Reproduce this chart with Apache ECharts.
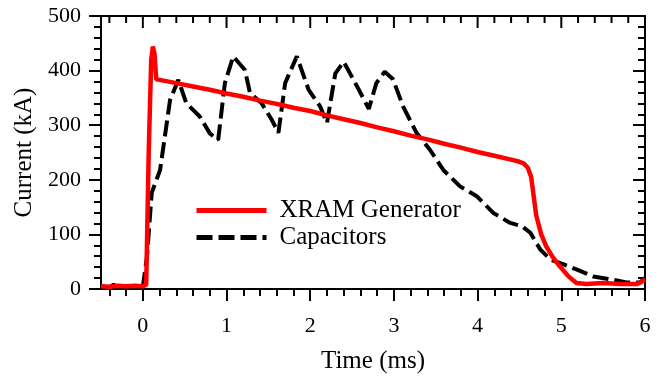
<!DOCTYPE html>
<html>
<head>
<meta charset="utf-8">
<script src="https://cdn.jsdelivr.net/npm/echarts@6/dist/echarts.min.js"></script>
<style>
  html, body { margin: 0; padding: 0; background: #fff; }
  #chart { width: 663px; height: 377px; }
</style>
</head>
<body>
<div id="chart"></div>
<script>
// XRAM generator current trace (ms, kA)
const xramTime = [-0.5, -0.4, -0.3, -0.2, -0.1, 0.0, 0.04, 0.07, 0.1, 0.12, 0.14, 0.16, 0.18, 0.2,
  0.4, 0.6, 0.8, 1.0, 1.2, 1.4, 1.6, 1.8, 2.0, 2.2, 2.4, 2.6, 2.8, 3.0, 3.2, 3.4, 3.6, 3.8, 4.0,
  4.2, 4.4, 4.5, 4.55, 4.6, 4.64, 4.67, 4.7, 4.76, 4.82, 4.9, 4.98, 5.08, 5.18, 5.3, 5.5, 5.7,
  5.9, 5.95, 6.0];
const xramCurrent = [5, 4, 6, 5, 6, 5, 8, 250, 420, 444, 430, 384, 382, 383,
  377, 371, 365, 358, 352, 345, 339, 332, 326, 318, 311, 304, 296, 289, 281, 274, 266, 259, 251,
  244, 237, 233, 230, 222, 205, 170, 135, 100, 78, 58, 42, 24, 11, 9, 11, 9,
  9, 12, 18];

// Capacitor bank current trace (ms, kA)
const capTime = [-0.5, -0.4, -0.35, -0.3, -0.2, -0.1, -0.05, 0.0, 0.05, 0.106, 0.206, 0.325,
  0.424, 0.52, 0.68, 0.8, 0.9, 0.98, 1.08, 1.22, 1.28, 1.42, 1.54, 1.62, 1.7, 1.84, 1.98, 2.12,
  2.2, 2.3, 2.4, 2.56, 2.7, 2.79, 2.89, 2.99, 3.11, 3.27, 3.43, 3.59, 3.79, 3.99, 4.19, 4.39,
  4.53, 4.63, 4.75, 4.87, 5.03, 5.18, 5.38, 5.58, 5.78, 5.94, 6.0];
const capCurrent = [5, 3, 8, 3, 5, 4, 9, 4, 60, 176, 218, 346,
  383, 340, 316, 285, 273, 377, 426, 401, 359, 340, 310, 286, 377, 426, 365, 334,
  304, 395, 416, 371, 330, 377, 398, 384, 334, 286, 255, 218, 188, 170, 139, 121,
  115, 103, 72, 54, 45, 36, 23, 18, 12, 12, 20];

const timeMajor = [0, 1, 2, 3, 4, 5, 6];
const timeMinor = [-0.4, -0.2, 0.2, 0.4, 0.6, 0.8, 1.2, 1.4, 1.6, 1.8, 2.2, 2.4, 2.6, 2.8,
  3.2, 3.4, 3.6, 3.8, 4.2, 4.4, 4.6, 4.8, 5.2, 5.4, 5.6, 5.8];

const font = "'Liberation Serif', 'Times New Roman', serif";
const chart = echarts.init(document.getElementById('chart'));

function blackLine() {
  return { color: '#000', width: 2 };
}

function pairs(xs, ys) {
  return xs.map((x, i) => [x, ys[i]]);
}

function gridRect() {
  return { left: 101, right: 18, top: 16, bottom: 88, outerBoundsMode: 'none' };
}

// inward ticks along the top frame, placed through the x scale
const topTicks = timeMajor.map(v => [v, 12]).concat(timeMinor.map(v => [v, 7]));

function renderTopTick(params, api) {
  const p = api.coord([api.value(0), 500]);
  return {
    type: 'line',
    shape: { x1: p[0], y1: p[1], x2: p[0], y2: p[1] + api.value(1) },
    style: { stroke: '#000', lineWidth: 2 }
  };
}

const option = {
  animation: false,
  backgroundColor: '#fff',
  // grid 1 sits on grid 0 and only carries the bottom minor ticks
  grid: [gridRect(), gridRect()],
  legend: {
    orient: 'vertical',
    left: 189,
    top: 193,
    itemWidth: 70,
    itemHeight: 18,
    itemGap: 2,
    data: ['XRAM Generator', 'Capacitors'],
    itemStyle: { opacity: 0 },
    lineStyle: { width: 5 },
    textStyle: { color: '#000', fontFamily: font, fontSize: 25, padding: [0, 0, 0, 8] }
  },
  xAxis: [
    {
      type: 'value',
      position: 'bottom',
      min: -0.5,
      max: 6,
      name: 'Time (ms)',
      nameLocation: 'middle',
      nameGap: 60,
      nameTextStyle: { color: '#000', fontFamily: font, fontSize: 25 },
      axisLine: { onZero: false, lineStyle: blackLine() },
      axisTick: { length: 12, customValues: timeMajor, lineStyle: blackLine() },
      axisLabel: { customValues: timeMajor, margin: 26, color: '#000', fontFamily: font, fontSize: 22 },
      splitLine: { show: false }
    },
    {
      type: 'value',
      position: 'top',
      min: -0.5,
      max: 6,
      axisLine: { show: true, onZero: false, lineStyle: blackLine() },
      axisTick: { show: false },
      axisLabel: { show: false },
      splitLine: { show: false }
    },
    {
      type: 'value',
      gridIndex: 1,
      position: 'bottom',
      min: -0.5,
      max: 6,
      axisLine: { show: false, onZero: false },
      axisTick: { length: 7, customValues: timeMinor, lineStyle: blackLine() },
      axisLabel: { show: false },
      splitLine: { show: false }
    }
  ],
  yAxis: [
    {
      type: 'value',
      position: 'left',
      min: 0,
      max: 500,
      interval: 100,
      name: 'Current (kA)',
      nameLocation: 'middle',
      nameGap: 58,
      nameTextStyle: { color: '#000', fontFamily: font, fontSize: 25 },
      axisLine: { show: true, onZero: false, lineStyle: blackLine() },
      axisTick: { length: 12, lineStyle: blackLine() },
      minorTick: { show: true, splitNumber: 5, length: 7, lineStyle: blackLine() },
      axisLabel: { margin: 20, color: '#000', fontFamily: font, fontSize: 22 },
      splitLine: { show: false }
    },
    {
      type: 'value',
      position: 'right',
      min: 0,
      max: 500,
      interval: 100,
      axisLine: { show: true, onZero: false, lineStyle: blackLine() },
      axisTick: { inside: true, length: 12, lineStyle: blackLine() },
      minorTick: { show: true, splitNumber: 5, length: 7, lineStyle: blackLine() },
      axisLabel: { show: false },
      splitLine: { show: false }
    },
    {
      type: 'value',
      gridIndex: 1,
      min: 0,
      max: 500,
      show: false
    }
  ],
  series: [
    {
      name: 'Capacitors',
      type: 'line',
      symbol: 'none',
      data: pairs(capTime, capCurrent),
      lineStyle: { color: '#000', width: 4, type: [16, 6] },
      itemStyle: { color: '#000', opacity: 0 },
      z: 2
    },
    {
      name: 'XRAM Generator',
      type: 'line',
      symbol: 'none',
      data: pairs(xramTime, xramCurrent),
      lineStyle: { color: '#ff0000', width: 4.5 },
      itemStyle: { color: '#ff0000', opacity: 0 },
      z: 3
    },
    {
      name: 'topTicks',
      type: 'custom',
      xAxisIndex: 0,
      yAxisIndex: 0,
      silent: true,
      renderItem: renderTopTick,
      data: topTicks,
      z: 4
    }
  ]
};

chart.setOption(option);
</script>
</body>
</html>
